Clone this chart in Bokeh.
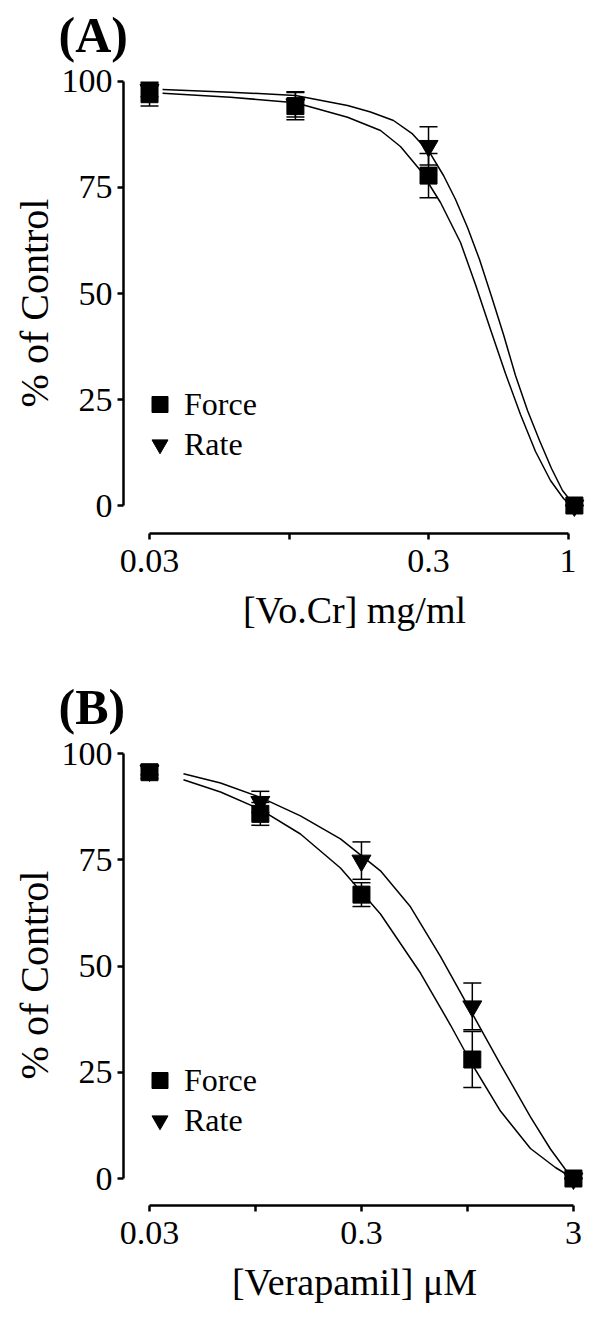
from bokeh.plotting import figure
from bokeh.models import (ColumnDataSource, Whisker, TeeHead, FixedTicker, Legend,
                          LegendItem, Title, Range1d)
from bokeh.core.properties import value
from bokeh.layouts import column
from bokeh.embed import file_html
from bokeh.resources import INLINE

FONT = "Liberation Serif"

# ---------------- Panel A: [Vo.Cr] mg/ml ----------------
a_conc = [0.03, 0.1, 0.3, 1.0]
a_force = [97.0, 94.2, 77.8, 0.0]
a_force_sem = [2.8, 3.2, 5.2, 0.0]
a_rate = [98.0, 94.6, 84.8, 0.0]
a_rate_sem = [1.6, 3.0, 4.5, 0.0]

# fitted curves
a_force_fit_x = [0.0334, 0.0585, 0.1001, 0.1538, 0.2019, 0.2380, 0.2808, 0.3312, 0.3907,
                 0.4420, 0.5004, 0.5662, 0.6409, 0.7254, 0.8209, 0.9140, 1.0]
a_force_fit_y = [97.24, 96.30, 94.98, 91.58, 88.44, 84.67, 79.01, 71.46, 62.03,
                 52.12, 41.51, 31.13, 21.46, 12.74, 5.90, 1.65, 0.0]
a_rate_fit_x = [0.0334, 0.0585, 0.1001, 0.1538, 0.1859, 0.2247, 0.2629, 0.3049, 0.3396,
                0.3750, 0.4139, 0.4570, 0.5046, 0.5570, 0.6150, 0.6792, 0.7499, 0.8279,
                0.9065, 1.0]
a_rate_fit_y = [98.11, 97.48, 96.70, 94.34, 92.81, 90.80, 87.62, 82.95, 77.83,
                72.17, 65.57, 58.02, 49.29, 40.33, 30.66, 22.41, 15.33, 8.73, 3.54, 0.0]

a_xticks = [0.03, 0.0949, 0.3, 0.9487]
a_xtick_labels = ["0.03", "", "0.3", "1"]
a_xlabel = "[Vo.Cr] mg/ml"

# ---------------- Panel B: [Verapamil] µM ----------------
b_conc = [0.03, 0.1, 0.3, 1.0, 3.0]
b_force = [95.6, 85.8, 66.8, 28.0, 0.0]
b_force_sem = [1.5, 2.7, 2.8, 6.6, 0.0]
b_rate = [96.0, 88.6, 74.8, 40.5, 0.0]
b_rate_sem = [1.0, 2.5, 4.4, 5.5, 0.0]

b_force_fit_x = [0.0434, 0.0649, 0.1002, 0.1546, 0.2388, 0.3688, 0.5694, 0.7888, 0.9801,
                 1.3575, 1.8804, 2.4660, 3.0]
b_force_fit_y = [93.81, 90.94, 86.82, 81.06, 73.06, 62.24, 48.35, 36.12, 27.53,
                 15.88, 7.06, 2.59, 0.0]
b_rate_fit_x = [0.0434, 0.0649, 0.1002, 0.1546, 0.2388, 0.3688, 0.5108, 0.7073, 0.9801,
                1.3575, 1.8804, 2.3361, 2.7504, 3.0]
b_rate_fit_y = [95.22, 93.06, 89.67, 85.34, 79.93, 72.40, 63.93, 52.28, 39.58,
                26.87, 14.52, 6.94, 2.12, 0.0]

b_xticks = [0.03, 0.0949, 0.3, 0.9487, 3.0]
b_xtick_labels = ["0.03", "", "0.3", "", "3"]
b_xlabel = "[Verapamil] \u03bcM"

y_ticks = [0, 25, 50, 75, 100]
series_labels = ["Force", "Rate"]


def make_panel(letter, conc, force, fsem, rate, rsem, ffx, ffy, rfx, rfy,
               xticks, xlabels, xlabel, xr, yr, border_top, title_standoff, legend_y):
    p = figure(x_axis_type="log", x_range=Range1d(*xr), y_range=Range1d(*yr),
               frame_width=462, frame_height=461,
               min_border_left=123, min_border_right=7,
               min_border_top=border_top, min_border_bottom=100,
               output_backend="svg", toolbar_location=None, tools="")
    p.outline_line_color = None
    p.grid.visible = False

    p.title = Title(text=letter, align="left", offset=-65, standoff=title_standoff,
                    vertical_align="top",
                    text_font=FONT, text_font_size="50px", text_font_style="bold",
                    text_color="black")

    p.line(ffx, ffy, line_color="black", line_width=1.5)
    p.line(rfx, rfy, line_color="black", line_width=1.5)

    src_r = ColumnDataSource(dict(x=conc, y=rate,
                                  lo=[v - e for v, e in zip(rate, rsem)],
                                  hi=[v + e for v, e in zip(rate, rsem)]))
    src_f = ColumnDataSource(dict(x=conc, y=force,
                                  lo=[v - e for v, e in zip(force, fsem)],
                                  hi=[v + e for v, e in zip(force, fsem)]))
    for src in (src_r, src_f):
        p.add_layout(Whisker(source=src, base="x", upper="hi", lower="lo",
                             line_color="black", line_width=1.5,
                             upper_head=TeeHead(size=18, line_width=1.5, line_color="black"),
                             lower_head=TeeHead(size=18, line_width=1.5, line_color="black")))
    rr = p.scatter("x", "y", source=src_r, marker="inverted_triangle", size=19,
                   fill_color="black", line_color="black")
    rf = p.scatter("x", "y", source=src_f, marker="square", size=17,
                   fill_color="black", line_color="black")

    xa = p.xaxis[0]
    xa.ticker = FixedTicker(ticks=xticks)
    xa.major_label_overrides = dict(zip(xticks, xlabels))
    xa.bounds = (xticks[0], xticks[-1])
    xa.axis_label = xlabel
    xa.major_label_standoff = 10
    xa.axis_label_standoff = 14

    ya = p.yaxis[0]
    ya.ticker = FixedTicker(ticks=y_ticks)
    ya.bounds = (0, 100)
    ya.axis_label = "% of Control"
    ya.major_label_standoff = 5
    ya.axis_label_standoff = 2

    for ax in (xa, ya):
        ax.axis_line_width = 2.5
        ax.axis_line_color = "black"
        ax.major_tick_line_width = 2.5
        ax.major_tick_line_color = "black"
        ax.major_tick_out = 6
        ax.major_tick_in = 0
        ax.minor_tick_line_color = None
        ax.major_label_text_font = FONT
        ax.major_label_text_font_size = "34px"
        ax.major_label_text_color = "black"
        ax.axis_label_text_font = FONT
        ax.axis_label_text_font_size = "38px"
        ax.axis_label_text_font_style = "normal"
        ax.axis_label_text_color = "black"
    ya.axis_label_text_font_size = "40px"

    leg = Legend(items=[LegendItem(label=value(series_labels[0]), renderers=[rf]),
                        LegendItem(label=value(series_labels[1]), renderers=[rr])],
                 location=(14, legend_y), glyph_width=45, glyph_height=40, spacing=0,
                 padding=0, margin=0, label_standoff=2,
                 label_text_font=FONT, label_text_font_size="32px",
                 label_text_color="black",
                 border_line_color=None, background_fill_alpha=0)
    p.add_layout(leg)
    return p


pA = make_panel("(A)", a_conc, a_force, a_force_sem, a_rate, a_rate_sem,
                a_force_fit_x, a_force_fit_y, a_rate_fit_x, a_rate_fit_y,
                a_xticks, a_xtick_labels, a_xlabel,
                (0.0242, 1.096), (-6.60, 102.12), 96, 16, 69)
pB = make_panel("(B)", b_conc, b_force, b_force_sem, b_rate, b_rate_sem,
                b_force_fit_x, b_force_fit_y, b_rate_fit_x, b_rate_fit_y,
                b_xticks, b_xtick_labels, b_xlabel,
                (0.02262, 3.42), (-6.35, 102.12), 111, 16, 65)

layout = column(pA, pB, spacing=0, margin=(-24, 0, 0, 0))
open("out.html", "w").write(file_html(layout, INLINE))
